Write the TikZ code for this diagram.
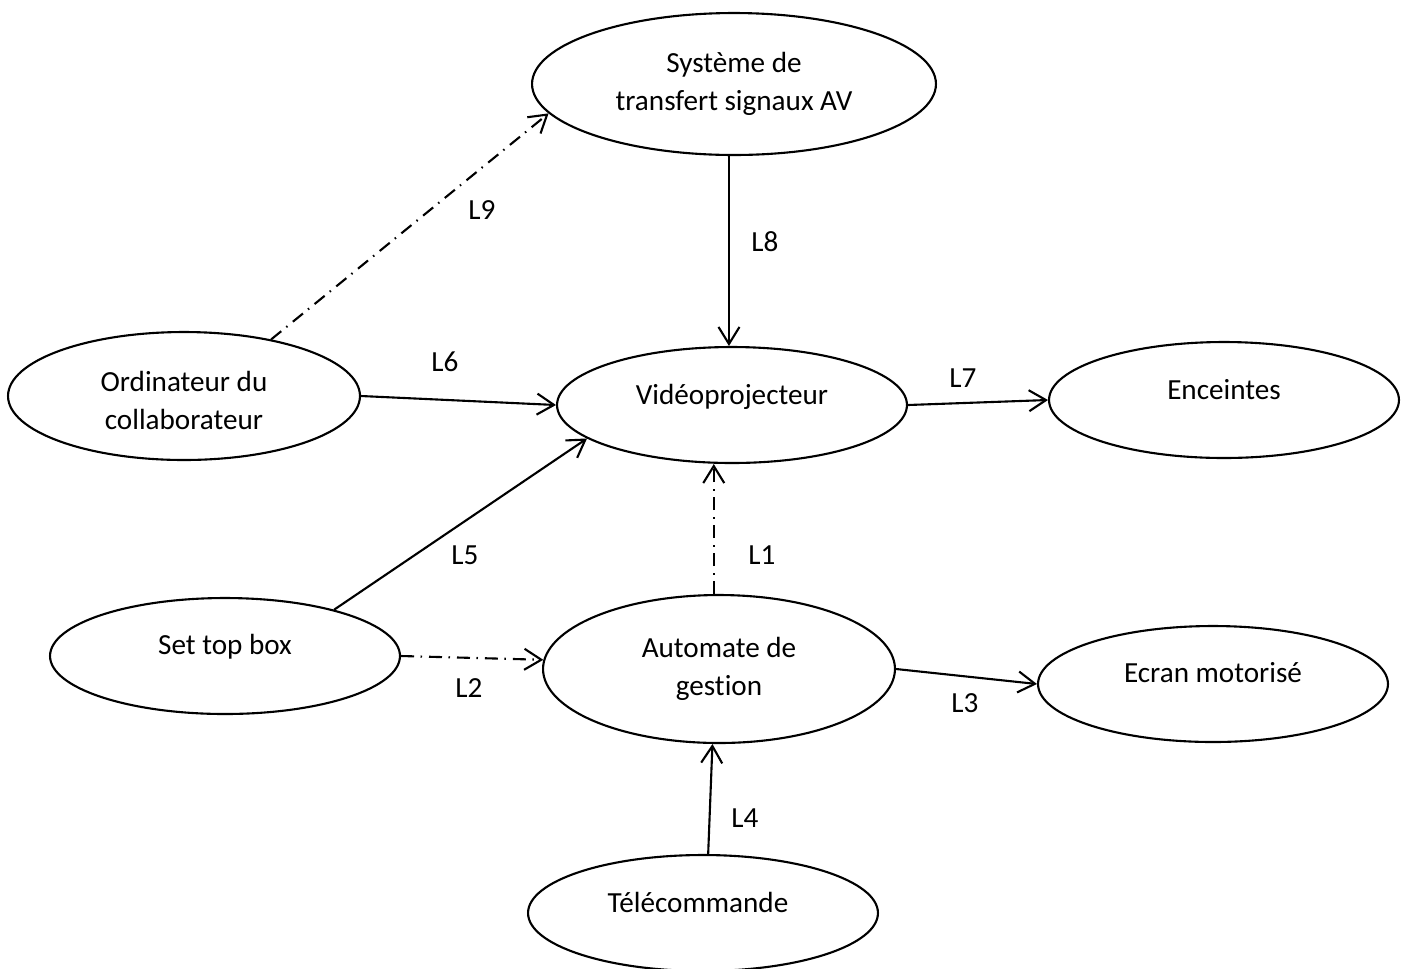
\documentclass[tikz,border=0pt]{standalone}
\usepackage{fontspec}
\setmainfont{Carlito}[Ligatures=CommonOff]
\usetikzlibrary{shapes.geometric,arrows.meta}
\begin{document}
\begin{tikzpicture}[x=0.02cm,y=-0.02cm,
    bulle/.style={ellipse,draw,line width=1.2pt,inner sep=0pt,minimum width=7cm,minimum height=2.32cm},
    txt/.style={font=\fontsize{16.6}{21.6}\selectfont,inner sep=0pt,align=center},
    ligne/.style={txt,text height=0.72em,text depth=0.22em,yshift=-1mm},
    fl/.style={-{Straight Barb[length=3.4mm,width=4.2mm]},line width=1.2pt},
    tiret/.style={dash pattern=on 2.6mm off 1.3mm on 0.3mm off 1.4mm}]
    \useasboundingbox (0,0) rectangle (1406,968);
    \node[bulle,minimum width=8.08cm,minimum height=2.84cm] (sys) at (734,84) {};
    \node[txt] (syst) at (734,84) {Système de\\transfert signaux AV};
    \node[bulle,minimum width=7.04cm,minimum height=2.56cm] (pc) at (184,396) {};
    \node[txt] (pct) at (184,400) {Ordinateur du\\collaborateur};
    \node[bulle] (proj) at (732,405) {};
    \node[ligne] (projt) at (732,395) {Vidéoprojecteur};
    \node[bulle] (enc) at (1224,400) {};
    \node[ligne] (enct) at (1224,390) {Enceintes};
    \node[bulle] (stb) at (225,656) {};
    \node[ligne] (stbt) at (225,645) {Set top box};
    \node[bulle,minimum width=7.04cm,minimum height=2.96cm] (auto) at (719,669) {};
    \node[txt] (autot) at (719,669) {Automate de\\gestion};
    \node[bulle] (ecran) at (1213,684) {};
    \node[ligne] (ecrant) at (1213,673) {Ecran motorisé};
    \node[bulle] (tele) at (703,913) {};
    \node[ligne] (telet) at (698,903) {Télécommande};
    \draw[fl,tiret] (pc.33) -- (sys.189);
    \draw[fl] (sys.266) -- (sys.266 |- proj.north);
    \draw[fl] (pc.east) -- (proj.west);
    \draw[fl] (proj.east) -- (enc.west);
    \draw[fl] (stb.23) -- (proj.193);
    \draw[fl,tiret] (auto.94) -- (auto.94 |- proj.south);
    \draw[fl,tiret] (stb.east) -- (auto.177);
    \draw[fl] (auto.east) -- (ecran.west);
    \draw[fl] (tele.85) -- (auto.265);
    \node[ligne] (l9) at (482,210) {L9};
    \node[ligne] (l8) at (765,242) {L8};
    \node[ligne] (l6) at (445,362) {L6};
    \node[ligne] (l7) at (963,378) {L7};
    \node[ligne] (l5) at (465,555) {L5};
    \node[ligne] (l1) at (762,555) {L1};
    \node[ligne] (l2) at (469,688) {L2};
    \node[ligne] (l3) at (965,703) {L3};
    \node[ligne] (l4) at (745,818) {L4};
\end{tikzpicture}
\end{document}
